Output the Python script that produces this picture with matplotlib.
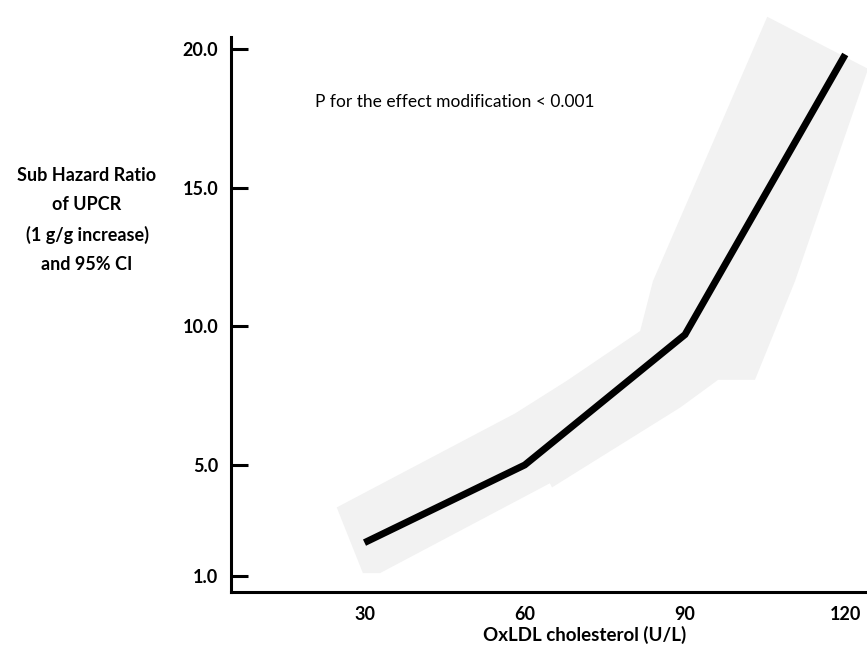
import numpy as np
import matplotlib
matplotlib.use('Agg')
import matplotlib.pyplot as plt

plt.rcParams['font.family'] = ['Lato', 'DejaVu Sans']

# OxLDL cholesterol (U/L) and sub hazard ratio
oxldl = [30, 60, 90, 120]
shr = [2.2, 5.0, 9.7, 19.8]

# 95% CI band, upper edge (left to right) and lower edge (right to left)
ci_upper_x = [24.8, 58.2, 67.9, 81.6, 84.0, 105.4, 124.1]
ci_upper = [3.47, 6.86, 8.04, 9.83, 11.63, 21.16, 19.3]
ci_lower_x = [124.1, 110.6, 103.1, 96.2, 89.1, 65.1, 64.7, 32.9, 29.7]
ci_lower = [19.18, 11.63, 8.07, 8.07, 7.07, 4.19, 4.34, 1.10, 1.10]

x_ticks = [30, 60, 90, 120]
y_ticks = [1, 5, 10, 15, 20]
y_ticklabels = ['1.0', '5.0', '10.0', '15.0', '20.0']

fig = plt.figure(figsize=(8.67, 6.48), dpi=100)
ax = fig.add_axes([0.2664, 0.0864, 0.7313, 0.8565])

# confidence band
ax.fill(np.concatenate([ci_upper_x, ci_lower_x]),
        np.concatenate([ci_upper, ci_lower]),
        color='#f2f2f2', lw=0, clip_on=False, zorder=1)

ax.plot(oxldl, shr, color='black', lw=5, solid_capstyle='butt',
        solid_joinstyle='miter', zorder=3)

ax.set_xlim(5, 123.7)
ax.set_ylim(0.42, 20.43)

for side in ['top', 'right']:
    ax.spines[side].set_visible(False)
for side in ['left', 'bottom']:
    ax.spines[side].set_linewidth(2.2)

ax.set_xticks(x_ticks)
ax.set_xticklabels([str(v) for v in x_ticks], fontsize=13, fontweight='bold')
ax.tick_params(axis='x', length=0, pad=10)

ax.set_yticks(y_ticks)
ax.set_yticklabels(y_ticklabels, fontsize=13, fontweight='bold')
ax.tick_params(axis='y', direction='in', length=12, width=2.2, pad=9)

ax.set_xlabel('OxLDL cholesterol (U/L)', fontsize=13.5, fontweight='bold',
              va='center')
ax.xaxis.set_label_coords(0.558, -0.078)

fig.text(87 / 867, 1 - 220 / 648,
         'Sub Hazard Ratio\nof UPCR\n(1 g/g increase)\nand 95% CI',
         ha='center', va='center', fontsize=13, fontweight='bold',
         linespacing=1.85)

ax.text(0.1325, 0.883, 'P for the effect modification < 0.001',
        transform=ax.transAxes, ha='left', va='center', fontsize=12.5)

fig.savefig('out.png', dpi=100)
